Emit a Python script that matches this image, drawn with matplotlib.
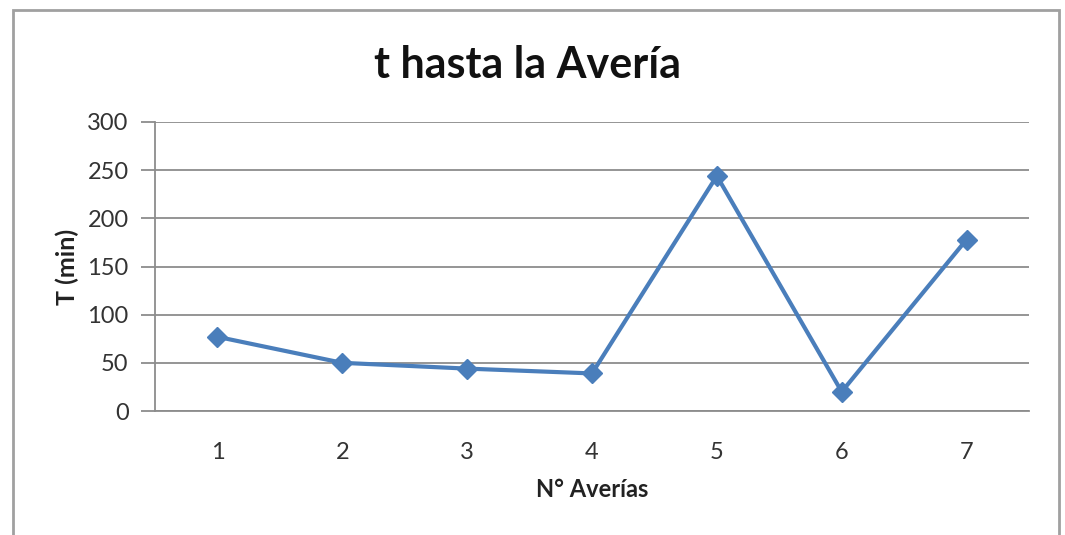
import matplotlib.pyplot as plt
from matplotlib.patches import Rectangle

plt.rcParams['font.family'] = ['Lato', 'DejaVu Sans']

# data
averias = [1, 2, 3, 4, 5, 6, 7]
t_min = [77, 50, 44, 39, 244, 20, 178]
y_ticks = [0, 50, 100, 150, 200, 250, 300]

fig = plt.figure(figsize=(10.65, 5.35), dpi=100)
ax = fig.add_axes([155 / 1065, 1 - 411 / 535, (1029 - 155) / 1065, (411 - 122) / 535])

# outer chart border, like the excel chart area
fig.patches.append(Rectangle((13 / 1065, -0.05), (1059 - 13) / 1065, 1 - 10 / 535 + 0.05,
                             transform=fig.transFigure, fill=False,
                             edgecolor='#a0a0a0', linewidth=2))

ax.plot(averias, t_min, color='#4a7ebb', linewidth=3, marker='D',
        markersize=10, markerfacecolor='#4a7ebb', markeredgecolor='#4a7ebb',
        zorder=3)

ax.set_xlim(0.5, 7.5)
ax.set_ylim(0, 300)
ax.set_xticks(averias)
ax.set_yticks(y_ticks)
ax.grid(axis='y', color='#8c8c8c', linewidth=1.3)
ax.set_axisbelow(True)

for s in ['top', 'right']:
    ax.spines[s].set_visible(False)
ax.spines['left'].set_color('#8c8c8c')
ax.spines['bottom'].set_color('#8c8c8c')
ax.spines['left'].set_linewidth(1.3)
ax.spines['bottom'].set_linewidth(1.3)

ax.tick_params(axis='y', length=10, width=1.3, color='#8c8c8c', pad=9,
               labelsize=17, labelcolor='#333333')
ax.tick_params(axis='x', length=0, pad=22, labelsize=17, labelcolor='#333333')

ax.set_xlabel('N° Averías', fontsize=17, fontweight='bold', labelpad=11,
              color='#222222')
ax.set_ylabel('T (min)', fontsize=18, fontweight='bold', labelpad=6,
              color='#222222')

fig.text(527 / 1065, 1 - 65 / 535, 't hasta la Avería', ha='center', va='center',
         fontsize=31, fontweight='bold', color='#111111')

fig.savefig('out.png', dpi=100)
